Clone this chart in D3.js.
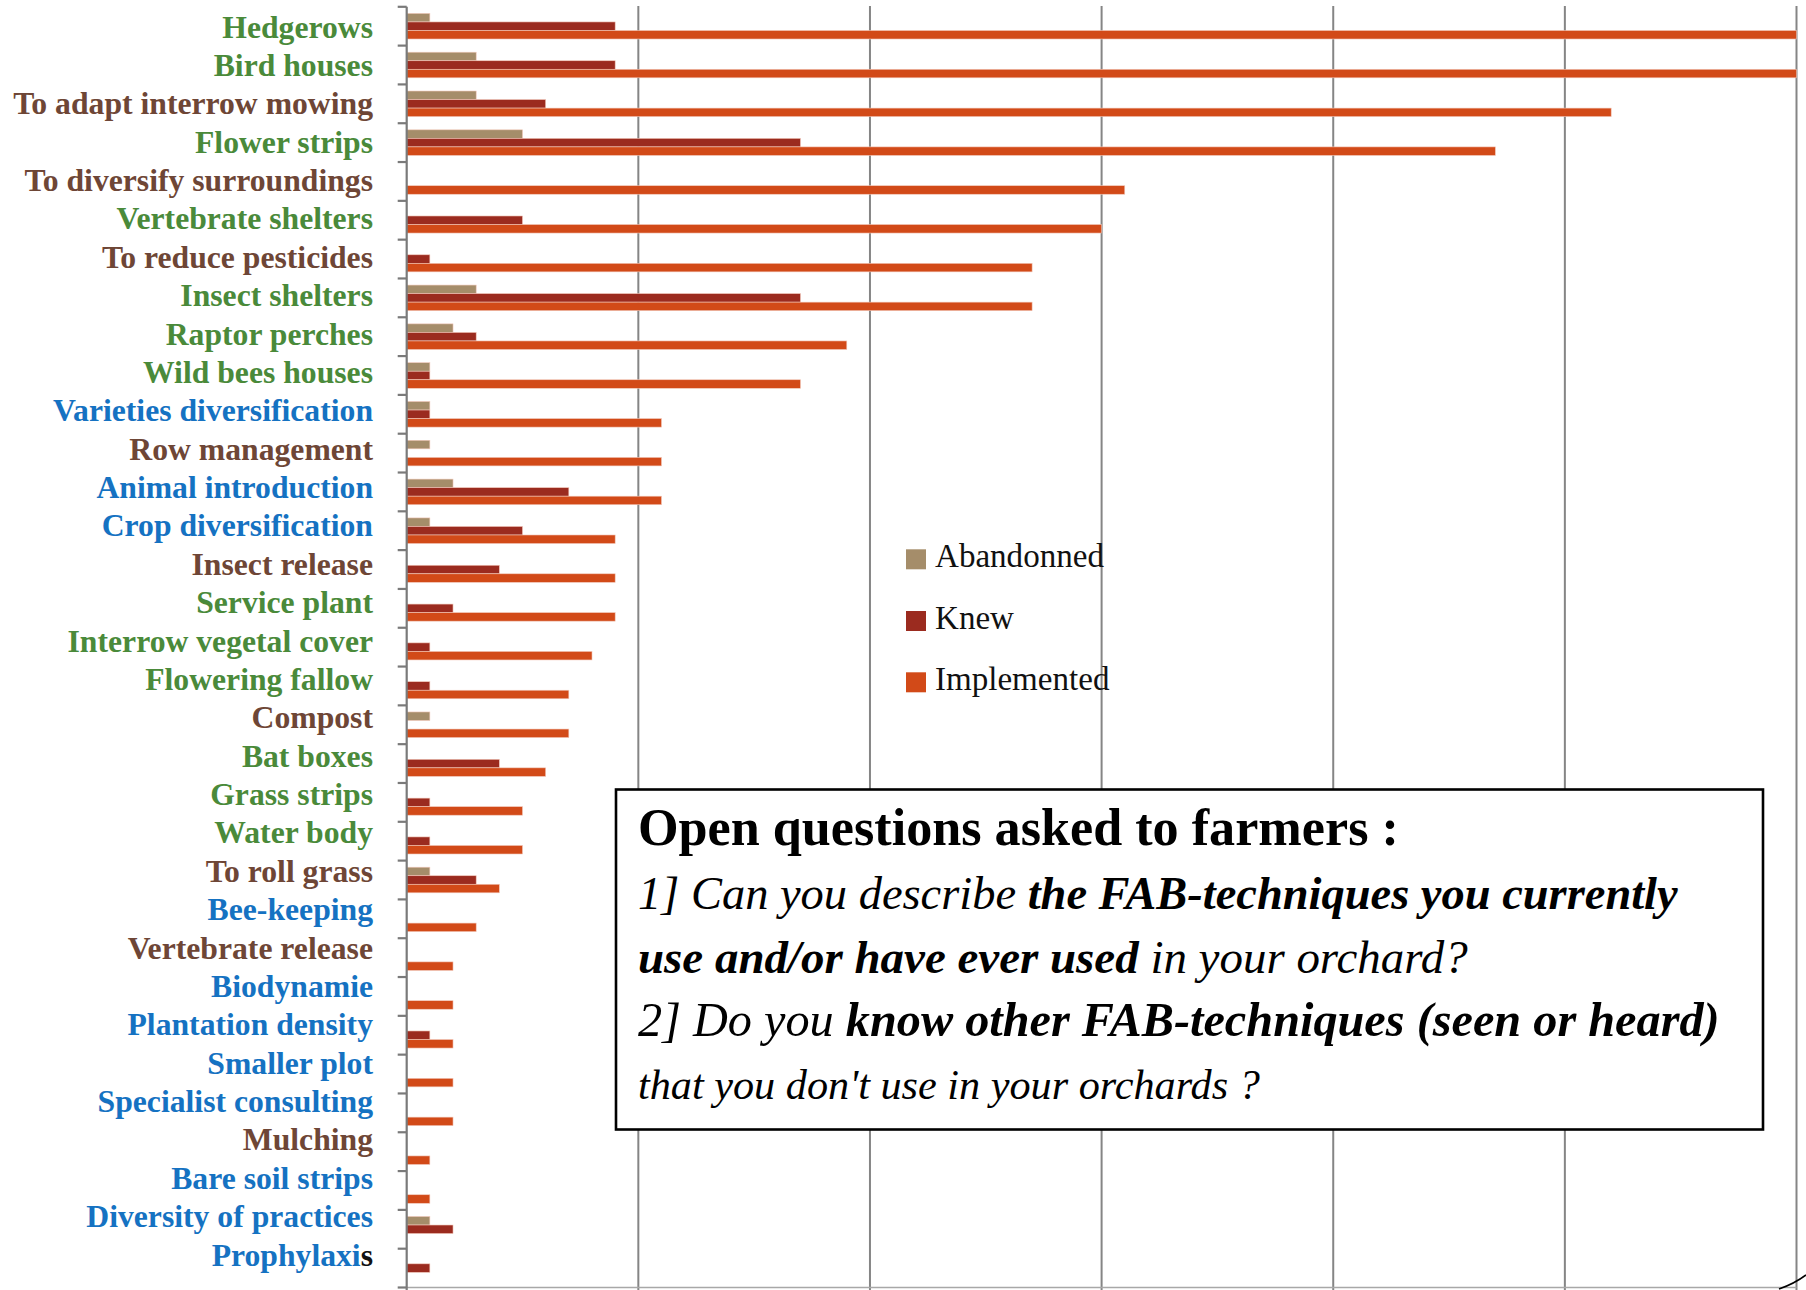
<!DOCTYPE html>
<html>
<head>
<meta charset="utf-8">
<script src="https://cdn.jsdelivr.net/npm/d3@7/dist/d3.min.js"></script>
<style>
  html, body { margin: 0; padding: 0; background: #ffffff; }
  svg { display: block; }
</style>
</head>
<body>
<svg id="chart" width="1806" height="1290"></svg>
<script>
// ---------------- DATA ----------------
const categories = [
  "Hedgerows", "Bird houses", "To adapt interrow mowing", "Flower strips",
  "To diversify surroundings", "Vertebrate shelters", "To reduce pesticides",
  "Insect shelters", "Raptor perches", "Wild bees houses", "Varieties diversification",
  "Row management", "Animal introduction", "Crop diversification", "Insect release",
  "Service plant", "Interrow vegetal cover", "Flowering fallow", "Compost", "Bat boxes",
  "Grass strips", "Water body", "To roll grass", "Bee-keeping", "Vertebrate release",
  "Biodynamie", "Plantation density", "Smaller plot", "Specialist consulting",
  "Mulching", "Bare soil strips", "Diversity of practices", "Prophylaxis"
];
// label colour group: g = green, b = brown, u = blue
const labelGroups = [
  "g","g","b","g","b","g","b","g","g","g","u",
  "b","u","u","b","g","g","g","b","g","g","g","b","u","b",
  "u","u","u","u","b","u","u","u"
];
const abandonned = [1,3,3,5,0,0,0,3,2,1,1,1,2,1,0,0,0,0,1,0,0,0,1,0,0,0,0,0,0,0,0,1,0];
const knew       = [9,9,6,17,0,5,1,17,3,1,1,0,7,5,4,2,1,1,0,4,1,1,3,0,0,0,1,0,0,0,0,2,1];
const implemented= [60,60,52,47,31,30,27,27,19,17,11,11,11,9,9,9,8,7,7,6,5,5,4,3,2,2,2,2,2,1,1,0,0];
const seriesNames = ["Abandonned", "Knew", "Implemented"];
const gridTicks = [10, 20, 30, 40, 50, 60];
const boxLines = [
  [{t:"Open questions asked to farmers :", s:"b"}],
  [{t:"1] Can you describe ", s:"i"}, {t:"the FAB-techniques you currently", s:"bi"}],
  [{t:"use and/or have ever used", s:"bi"}, {t:" in your orchard?", s:"i"}],
  [{t:"2] Do you ", s:"i"}, {t:"know other FAB-techniques (seen or heard)", s:"bi"}],
  [{t:"that you don't use in your orchards ?", s:"i"}]
];

// ---------------- STYLE ----------------
const seriesColors = { "Abandonned": "#A58D6A", "Knew": "#9B2B1F", "Implemented": "#D24A18" };
const groupColors = { g: "#4A8A3A", b: "#6E4636", u: "#1572C2" };
const FONT = "'Liberation Serif', 'Times New Roman', serif";

const svg = d3.select("#chart");

const x = d3.scaleLinear().domain([0, 60]).range([406.7, 1796.5]);
const y = d3.scaleBand().domain(categories).range([6.8, 1287.5]).padding(0);
const sub = d3.scaleBand().domain(seriesNames)
  .range([y.bandwidth() * 0.17, y.bandwidth() * 0.83]).padding(0);
const yLabel = d3.scalePoint().domain(categories).range([37.5, 1265.5]);

const rows = categories.map((c, i) => ({
  cat: c,
  vals: { "Abandonned": abandonned[i], "Knew": knew[i], "Implemented": implemented[i] }
}));

// ---------------- GRID ----------------
svg.append("g").selectAll("line").data(gridTicks).join("line")
  .attr("x1", d => x(d)).attr("x2", d => x(d))
  .attr("y1", 6).attr("y2", 1290)
  .attr("stroke", "#858585").attr("stroke-width", 2);

// bottom axis line
svg.append("line")
  .attr("x1", x(0)).attr("x2", x(60))
  .attr("y1", y.range()[1]).attr("y2", y.range()[1])
  .attr("stroke", "#a8a8a8").attr("stroke-width", 1.5);

// ---------------- BARS ----------------
const gRows = svg.append("g").selectAll("g").data(rows).join("g")
  .attr("transform", d => `translate(0,${y(d.cat)})`);
gRows.selectAll("rect")
  .data(d => seriesNames.map(s => ({ s, v: d.vals[s] })).filter(e => e.v > 0))
  .join("rect")
  .attr("x", x(0))
  .attr("y", d => sub(d.s))
  .attr("width", d => x(d.v) - x(0))
  .attr("height", sub.bandwidth())
  .attr("fill", d => seriesColors[d.s])
  .attr("stroke", "#f2c9bb").attr("stroke-width", 0.6);

// ---------------- LEFT AXIS ----------------
const step = y.step();
const tickPos = d3.range(categories.length + 1).map(i => y.range()[0] + i * step);
const axisG = svg.append("g");
axisG.append("line")
  .attr("x1", x(0)).attr("x2", x(0))
  .attr("y1", y.range()[0]).attr("y2", 1290)
  .attr("stroke", "#7a7a7a").attr("stroke-width", 2.2);
axisG.selectAll("line.tick").data(tickPos).join("line")
  .attr("class", "tick")
  .attr("x1", x(0) - 9).attr("x2", x(0))
  .attr("y1", d => d).attr("y2", d => d)
  .attr("stroke", "#7a7a7a").attr("stroke-width", 2.2);

// labels
const labels = svg.append("g")
  .attr("font-family", FONT).attr("font-weight", "bold")
  .attr("text-anchor", "end");
const lab = labels.selectAll("text").data(categories).join("text")
  .attr("x", 373)
  .attr("y", d => yLabel(d))
  .attr("fill", (d, i) => groupColors[labelGroups[i]])
  .attr("font-size", 28);
lab.each(function(d) {
  const t = d3.select(this);
  if (d === "Prophylaxis") {
    t.append("tspan").text("Prophylaxi");
    t.append("tspan").attr("fill", "#111").text("s");
  } else {
    t.text(d);
  }
});
// fit label font size to the widest label width measured on the reference
(function() {
  const ref = lab.filter(d => d === "To adapt interrow mowing").node();
  const w = ref.getComputedTextLength();
  const fs = 28 * 360 / w;
  lab.attr("font-size", fs);
})();

// ---------------- LEGEND ----------------
const legendY = [549.3, 611, 672.3];
const leg = svg.append("g").selectAll("g").data(seriesNames).join("g")
  .attr("transform", (d, i) => `translate(906,${legendY[i]})`);
leg.append("rect").attr("width", 20).attr("height", 20)
  .attr("fill", d => seriesColors[d]);
const legText = leg.append("text").attr("x", 29).attr("y", 17.5)
  .attr("font-family", FONT).attr("font-size", 30).attr("fill", "#111")
  .text(d => d);
(function() {
  const w = legText.filter(d => d === "Abandonned").node().getComputedTextLength();
  legText.attr("font-size", 30 * 169 / w);
})();

// ---------------- TEXT BOX ----------------
svg.append("rect")
  .attr("x", 616).attr("y", 789.5).attr("width", 1147).attr("height", 340)
  .attr("fill", "#ffffff").attr("stroke", "#000").attr("stroke-width", 2.6);
const lineBase = [845, 909, 972.5, 1036, 1099];
const lineWidths = [761, 1040, 830, 1082, 622];
const boxG = svg.append("g").attr("font-family", FONT).attr("fill", "#000");
boxLines.forEach((parts, i) => {
  const t = boxG.append("text").attr("x", 638).attr("y", lineBase[i])
    .attr("font-size", 40).attr("xml:space", "preserve");
  parts.forEach(p => {
    t.append("tspan")
      .attr("font-weight", p.s.includes("b") ? "bold" : "normal")
      .attr("font-style", p.s.includes("i") ? "italic" : "normal")
      .text(p.t);
  });
  t.style("white-space", "pre");
  const w = t.node().getComputedTextLength();
  t.attr("font-size", 40 * lineWidths[i] / w);
});

// small corner stroke at bottom-right
svg.append("path")
  .attr("d", "M1779,1289 Q1794,1284 1806,1275")
  .attr("fill", "none").attr("stroke", "#000").attr("stroke-width", 1.6);
</script>
</body>
</html>
